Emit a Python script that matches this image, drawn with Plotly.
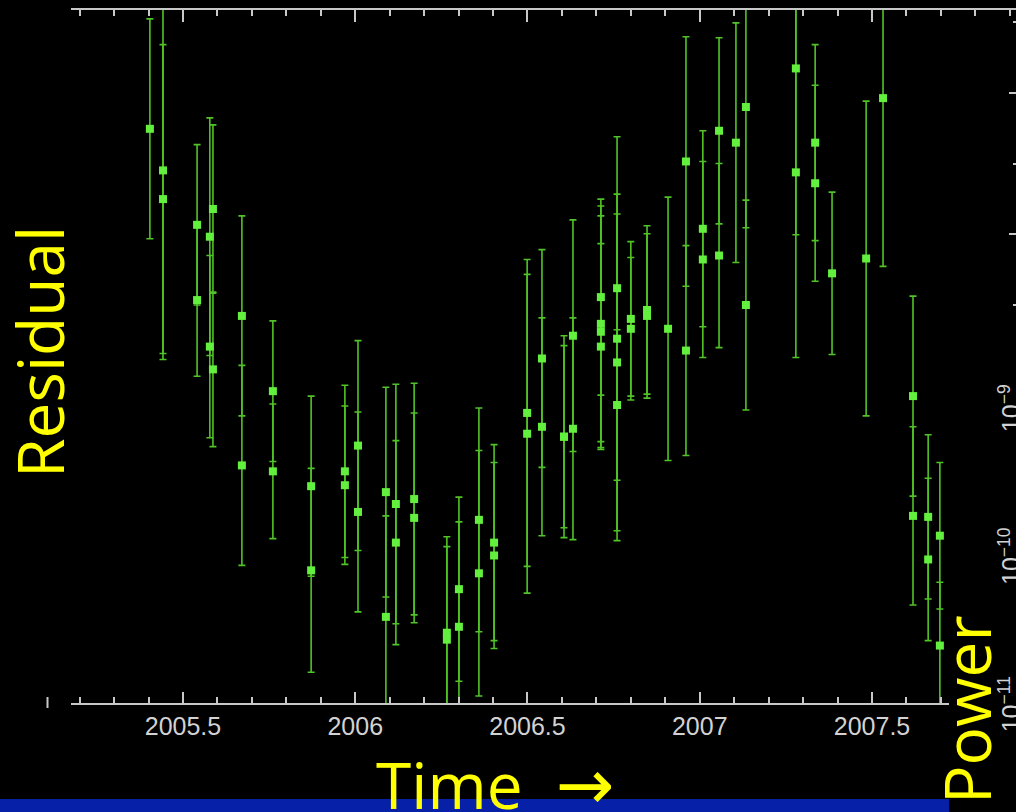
import plotly.graph_objects as go

W, H = 1016, 812

# ---------------- data ----------------
time_yr = [
    2005.404, 2005.442, 2005.442, 2005.541, 2005.541, 2005.578, 2005.578, 2005.587, 2005.587,
    2005.671, 2005.671, 2005.761, 2005.761, 2005.872, 2005.872, 2005.970, 2005.970,
    2006.008, 2006.008, 2006.089, 2006.089, 2006.118, 2006.118, 2006.171, 2006.171,
    2006.266, 2006.266, 2006.301, 2006.301, 2006.359, 2006.359, 2006.403, 2006.403,
    2006.499, 2006.499, 2006.542, 2006.542, 2006.606, 2006.606, 2006.632, 2006.632,
    2006.713, 2006.713, 2006.713, 2006.713, 2006.760, 2006.760, 2006.760, 2006.760,
    2006.800, 2006.800, 2006.847, 2006.847, 2006.908, 2006.960, 2006.960,
    2007.009, 2007.009, 2007.056, 2007.056, 2007.105, 2007.134, 2007.134,
    2007.279, 2007.279, 2007.335, 2007.335, 2007.384, 2007.483, 2007.532,
    2007.619, 2007.619, 2007.663, 2007.663, 2007.697, 2007.697,
]
residual = [
    2.30, 1.88, 1.59, 1.33, 0.57, 1.21, 0.10, 1.49, -0.13,
    0.41, -1.10, -0.35, -1.16, -1.31, -2.16, -1.16, -1.30,
    -0.90, -1.57, -1.37, -2.63, -1.49, -1.88, -1.44, -1.63,
    -2.79, -2.86, -2.35, -2.73, -1.65, -2.19, -1.88, -2.01,
    -0.57, -0.78, -0.02, -0.71, -0.81, -0.81, 0.21, -0.73,
    0.60, 0.33, 0.25, 0.10, 0.69, 0.18, -0.06, -0.49,
    0.38, 0.28, 0.47, 0.41, 0.28, 1.97, 0.06,
    1.29, 0.98, 2.28, 1.02, 2.16, 2.52, 0.52,
    2.91, 1.86, 2.16, 1.75, 0.84, 0.99, 2.61,
    -0.40, -1.61, -1.62, -2.05, -1.81, -2.92,
]
residual_err = [
    1.11, 1.91, 1.56, 0.81, 0.77, 1.20, 0.92, 0.85, 0.78,
    1.01, 1.01, 0.71, 0.68, 0.91, 1.03, 0.87, 0.80,
    1.06, 1.01, 1.06, 1.02, 1.21, 1.03, 1.17, 1.06,
    0.97, 0.94, 0.93, 1.06, 1.13, 1.24, 0.99, 0.94,
    1.55, 1.61, 1.10, 1.10, 1.02, 0.92, 1.17, 1.12,
    0.99, 1.19, 1.17, 1.04, 0.75, 2.04, 1.70, 0.76,
    0.78, 0.72, 0.85, 0.83, 1.33, 1.26, 1.06,
    0.99, 0.99, 0.94, 0.93, 1.21, 1.22, 1.06,
    1.68, 1.87, 0.99, 0.99, 0.82, 1.59, 1.70,
    1.01, 0.90, 0.83, 0.82, 0.74, 0.64,
]

power_tick_vals = [1e-11, 1e-10, 1e-9]
power_tick_text = ["10<sup>\u221211</sup>", "10<sup>\u221210</sup>", "10<sup>\u22129</sup>"]

# ---------------- styling ----------------
AX = "#C8C8C8"
TICKFONT = dict(family="Liberation Sans", size=25, color="#D2D2D2")
YELLOW = "#FFFF00"
LABELFONT = dict(family="Open Sans", size=64, color=YELLOW)
CLEAR = "rgba(0,0,0,0)"

fig = go.Figure()

fig.add_trace(go.Scatter(
    x=time_yr, y=residual, mode="markers",
    marker=dict(symbol="square", size=8, color="#63EF3D", line=dict(width=0)),
    error_y=dict(type="data", array=residual_err, visible=True,
                 color="#50C426", thickness=1.6, width=3.5),
    xaxis="x", yaxis="y", showlegend=False, hoverinfo="skip",
))
# empty traces so that the extra axes get drawn
fig.add_trace(go.Scatter(x=[], y=[], xaxis="x2", yaxis="y", showlegend=False, hoverinfo="skip"))
fig.add_trace(go.Scatter(x=[], y=[], xaxis="x", yaxis="y2", showlegend=False, hoverinfo="skip"))
fig.add_trace(go.Scatter(x=[], y=[], xaxis="x", yaxis="y3", showlegend=False, hoverinfo="skip"))

common_x = dict(
    showline=True, linecolor=AX, linewidth=2,
    ticks="inside", tick0=2005.5, dtick=0.5, tickwidth=2, tickcolor=AX,
    minor=dict(ticks="inside", tick0=2005.5, dtick=0.1, tickwidth=2, tickcolor=AX, ticklen=6),
    showgrid=False, zeroline=False, automargin=False, tickformat=".1~f",
)

fig.update_layout(
    width=W, height=H,
    margin=dict(l=0, r=0, t=0, b=0),
    paper_bgcolor="black", plot_bgcolor=CLEAR,
    showlegend=False,
    xaxis=dict(domain=[71 / W, 949 / W], range=[2005.175, 2007.7235], anchor="y",
               ticklen=11, tickfont=TICKFONT, ticklabelstandoff=0, **common_x),
    xaxis2=dict(domain=[71 / W, 1], range=[2005.175, 2007.918], anchor="y", side="top",
                ticklen=12, showticklabels=False, **common_x),
    yaxis=dict(domain=[109 / H, 802 / H], range=[-3.5, 3.5], visible=False, anchor="x",
               automargin=False),
    yaxis2=dict(domain=[0, 1], type="log", range=[-11.703, -6.216], anchor="free",
                position=994 / W, side="right", tickvals=power_tick_vals,
                ticktext=power_tick_text, tickangle=-90, showline=False, ticks="",
                showgrid=False, zeroline=False, tickfont=TICKFONT, automargin=False),
    yaxis3=dict(domain=[(H - 312.6) / H, 1], range=[3.126, 0], anchor="free", position=1,
                side="right", ticks="inside", tick0=0.9275, dtick=1.415, ticklen=7,
                tickwidth=2, tickcolor=AX,
                minor=dict(ticks="inside", tick0=0.22, dtick=0.7075, ticklen=3,
                           tickwidth=2, tickcolor=AX),
                showticklabels=False, showline=False, showgrid=False, zeroline=False,
                automargin=False),
    shapes=[
        dict(type="rect", xref="paper", yref="paper", x0=0, x1=949 / W, y0=0, y1=13 / H,
             fillcolor="#0620A8", line=dict(width=0), layer="below"),
        dict(type="line", xref="paper", yref="paper", x0=47.5 / W, x1=47.5 / W,
             y0=(H - 708) / H, y1=(H - 697) / H, line=dict(color=AX, width=2)),
    ],
    annotations=[
        dict(text="Residual", xref="paper", yref="paper", x=39 / W, y=(H - 352) / H,
             xanchor="center", yanchor="middle", textangle=-90, showarrow=False,
             font=LABELFONT),
        dict(text="Time\u00a0 <span style='font-family:DejaVu Sans;font-size:70px'>\u2192</span>",
             xref="paper", yref="paper", x=495 / W, y=(H - 784) / H,
             xanchor="center", yanchor="middle", showarrow=False, font=LABELFONT),
        dict(text="Power", xref="paper", yref="paper", x=966 / W, y=(H - 710) / H,
             xanchor="center", yanchor="middle", textangle=-90, showarrow=False,
             font=LABELFONT),
    ],
)

fig.write_html("out.html")
